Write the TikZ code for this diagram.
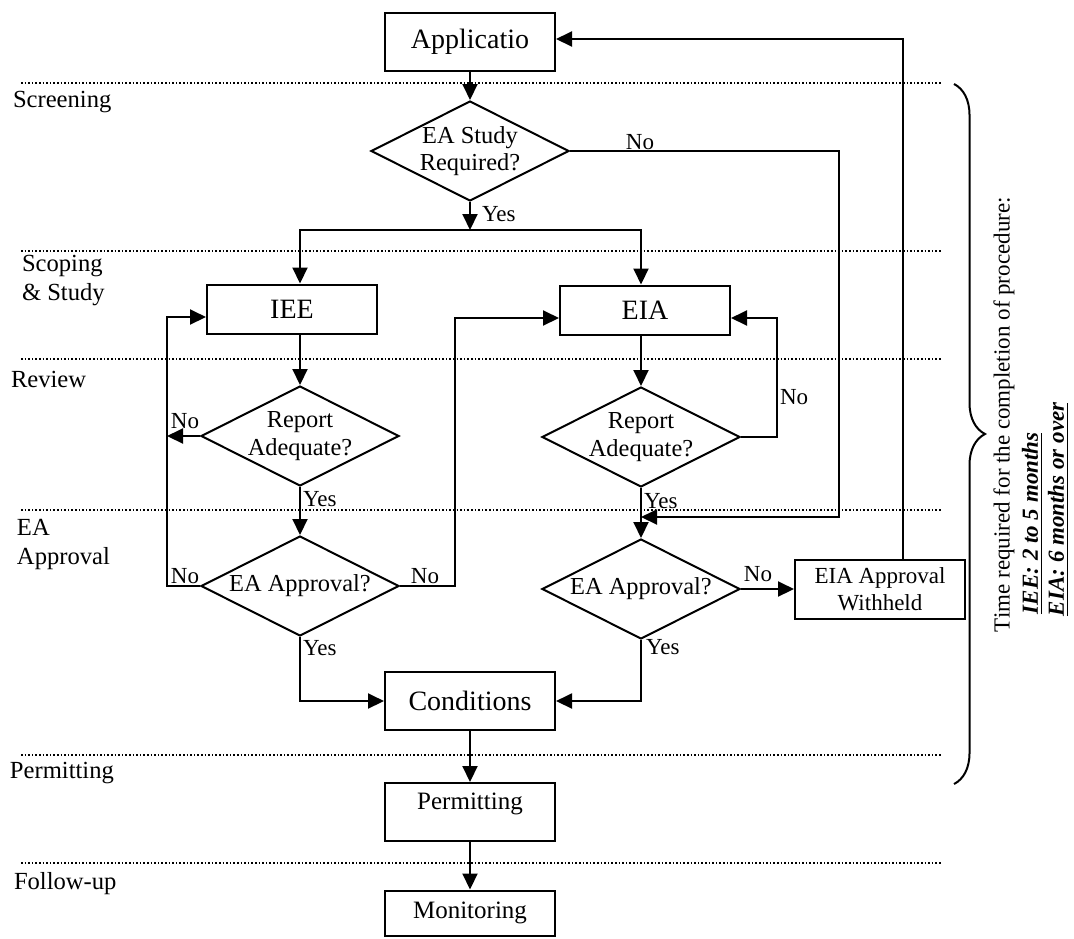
\documentclass[tikz,border=0pt]{standalone}
\usepackage{fontspec}
\setmainfont{Liberation Serif}
\usetikzlibrary{arrows.meta, shapes.geometric, decorations.pathreplacing}

\begin{document}
\begin{tikzpicture}[
    x=0.5pt, y=-0.5pt,
    line width=1pt,
    box/.style={draw, rectangle, minimum width=85pt, minimum height=29pt, inner sep=0pt, font=\fontsize{14}{16}\selectfont},
    lowbox/.style={box, minimum height=24.5pt},
    decision/.style={draw, diamond, minimum width=99pt, minimum height=50pt, inner sep=0pt},
    ask/.style={align=center, inner sep=0pt, font=\fontsize{12.2}{13.8}\selectfont},
    lane/.style={anchor=west, align=left, inner sep=0pt, font=\fontsize{12.3}{14.5}\selectfont},
    tag/.style={inner sep=0pt, font=\fontsize{11.5}{13}\selectfont},
    divider/.style={densely dotted, line width=0.8pt},
    arrow/.style={-{Triangle[length=8pt, width=7.5pt]}},
    toptext/.style={text height=9pt, text depth=11.6pt}
]
\useasboundingbox (0,0) rectangle (1074,938);

\draw[divider] (21,83) -- (941,83);
\draw[divider] (21,251) -- (941,251);
\draw[divider] (21,359) -- (941,359);
\draw[divider] (21,510) -- (941,510);
\draw[divider] (21,755) -- (941,755);
\draw[divider] (21,863) -- (941,863);

\node[lane] (l1) at (12,102) {Screening};
\node[lane] (l2) at (21,281) {Scoping\\\& Study};
\node[lane] (l3) at (10,379) {Review};
\node[lane] (l4) at (16,544) {EA\\Approval};
\node[lane] (l5) at (9,773) {Permitting};
\node[lane] (l6) at (13,884) {Follow-up};

\node[box] (1) at (470,42) {Applicatio};
\node[decision, label={[ask]center:EA Study\\Required?}] (2) at (470,151) {};
\node[lowbox] (3) at (292,309) {IEE};
\node[lowbox] (4) at (645,310) {EIA};
\node[decision, label={[ask]center:Report\\Adequate?}] (5) at (300,436) {};
\node[decision, label={[ask]center:Report\\Adequate?}] (6) at (641,437) {};
\node[decision, label={[ask]center:EA Approval?}] (7) at (300,586) {};
\node[decision, label={[ask]center:EA Approval?}] (8) at (641,589) {};
\node[box, minimum height=29.5pt, align=center, font=\fontsize{11.5}{13.5}\selectfont] (9) at (880,589) {EIA Approval\\Withheld};
\node[box] (10) at (470,701) {Conditions};
\node[box, toptext, font=\fontsize{12.5}{15}\selectfont] (11) at (470,812) {Permitting};
\node[box, minimum height=22.5pt, font=\fontsize{12.5}{15}\selectfont] (12) at (470,913) {Monitoring};

\node[tag, anchor=west] (y1) at (481,214) {Yes};
\node[tag] (n1) at (640,142) {No};
\node[tag] (n2) at (185,421) {No};
\node[tag, anchor=west] (y2) at (302,499) {Yes};
\node[tag] (n3) at (185,576) {No};
\node[tag] (n4) at (425,576) {No};
\node[tag, anchor=west] (y3) at (302,648) {Yes};
\node[tag, anchor=west] (n5) at (779,397) {No};
\node[tag, anchor=west] (y4) at (643,501) {Yes};
\node[tag] (n6) at (758,574) {No};
\node[tag, anchor=west] (y5) at (645,647) {Yes};

\coordinate (split) at (470,230);
\coordinate (skip) at (839,517);
\coordinate (join) at (641,517);
\coordinate (leftloop) at (167,586);
\coordinate (midloop) at (455,586);
\coordinate (rightloop) at (777,437);
\coordinate (back) at (903,39);

\draw[arrow] (1) -- (2);
\draw[arrow] (2) -- (split);
\draw[arrow] (split) -| (3.north -| 5.north);
\draw[arrow] (split) -| (4.north -| 6.north);
\draw[arrow] (5.north |- 3.south) -- (5);
\draw[arrow] (6.north |- 4.south) -- (6);
\draw[arrow] (5) -- (7);
\draw[arrow] (6) -- (8);
\draw[arrow] (2.east) -| (skip) -- (join);
\draw[arrow] (5.west) -- (5.west -| leftloop);
\draw[arrow] (7.west) -- (leftloop) |- ([yshift=-4pt]3.west);
\draw[arrow] (7.east) -- (midloop) |- ([yshift=-4pt]4.west);
\draw[arrow] (6.east) -- (rightloop) |- ([yshift=-4pt]4.east);
\draw[arrow] (7.south) |- (10.west);
\draw[arrow] (8.south) |- (10.east);
\draw[arrow] (8) -- (9);
\draw[arrow] (9.north -| back) -- (back) -- (1.east |- back);
\draw[arrow] (10) -- (11);
\draw[arrow] (11) -- (12);

\draw[decorate, decoration={brace, amplitude=15.5pt}] (954,84) -- (954,784);
\node[tag, rotate=90, anchor=west] (t1) at (1004,633) {Time required for the completion of procedure:};
\node[tag, rotate=90, anchor=west, font=\fontsize{11.5}{13}\selectfont\bfseries\itshape] (t2) at (1032,615) {\underline{IEE: 2 to 5 months}};
\node[tag, rotate=90, anchor=west, font=\fontsize{11.5}{13}\selectfont\bfseries\itshape] (t3) at (1058,617) {\underline{EIA: 6 months or over}};
\end{tikzpicture}
\end{document}
